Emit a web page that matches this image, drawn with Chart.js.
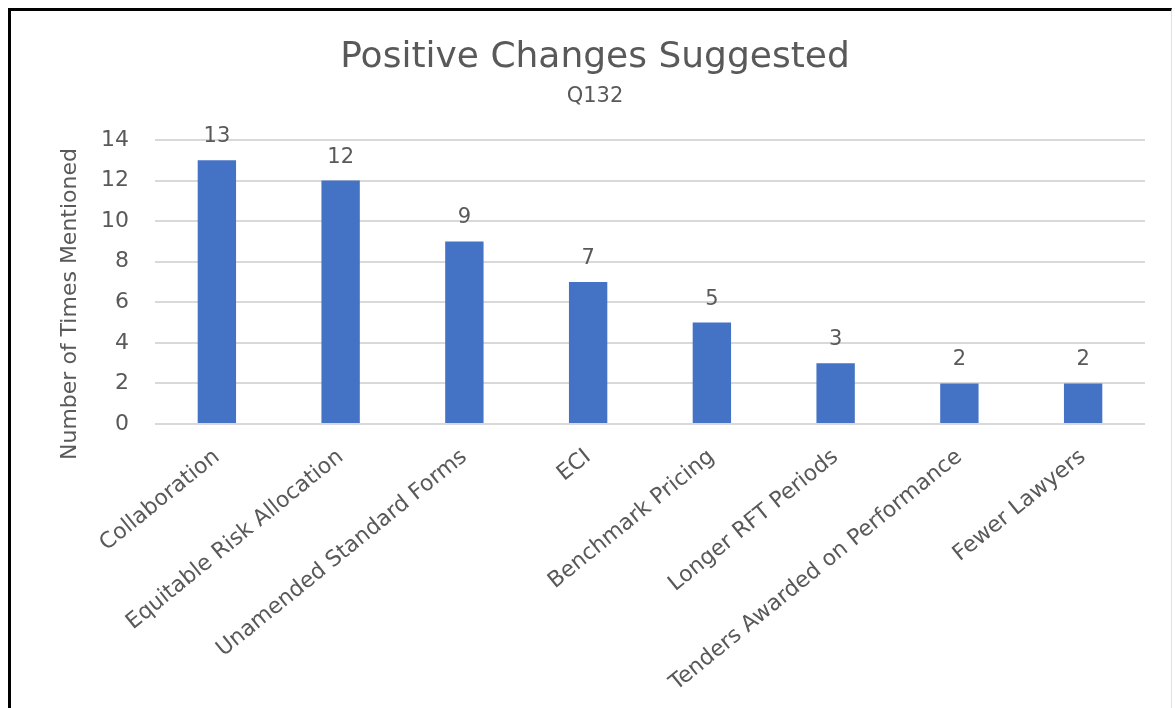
<!DOCTYPE html>
<html>
<head>
<meta charset="utf-8">
<script src="https://cdn.jsdelivr.net/npm/chart.js@4.4.0/dist/chart.umd.min.js"></script>
<style>
  html, body { margin: 0; padding: 0; background: #fff; }
  #wrap { position: relative; width: 1175px; height: 708px; overflow: hidden; }
  #frame {
    position: absolute; left: 8px; top: 8px; width: 1160px; height: 720px;
    border-top: 3px solid #000; border-left: 3px solid #000; border-right: 1px solid #e2e2e2;
  }
  #barChart { position: absolute; left: 0; top: 0; }
</style>
</head>
<body>
<div id="wrap">
  <div id="frame"></div>
  <canvas id="barChart" width="1175" height="708"></canvas>
</div>
<script>
const categories = ['Collaboration', 'Equitable Risk Allocation', 'Unamended Standard Forms', 'ECI',
  'Benchmark Pricing', 'Longer RFT Periods', 'Tenders Awarded on Performance', 'Fewer Lawyers'];
const timesMentioned = [13, 12, 9, 7, 5, 3, 2, 2];
const yTicks = [0, 2, 4, 6, 8, 10, 12, 14];
const yAxisTitle = 'Number of Times Mentioned';

const grey = '#595959';
const fontFamily = '"DejaVu Sans", "Open Sans", sans-serif';

// values above the bars (excel style data labels) + the y axis title,
// which sits a bit lower than the plot centre in the original
const extraText = {
  id: 'extraText',
  afterDatasetsDraw(chart) {
    const ctx = chart.ctx;
    const meta = chart.getDatasetMeta(0);
    const area = chart.chartArea;
    ctx.save();
    ctx.font = '21px ' + fontFamily;
    ctx.fillStyle = grey;
    ctx.textAlign = 'center';
    ctx.textBaseline = 'alphabetic';
    meta.data.forEach((bar, i) => {
      ctx.fillText(timesMentioned[i], bar.x, bar.y - 18);
    });

    ctx.font = '22px ' + fontFamily;
    ctx.textBaseline = 'middle';
    ctx.translate(70, (area.top + area.bottom) / 2 + 22);
    ctx.rotate(-Math.PI / 2);
    ctx.fillText(yAxisTitle, 0, 0);
    ctx.restore();
  }
};

const ctx = document.getElementById('barChart').getContext('2d');

const barChart = new Chart(ctx, {
  type: 'bar',
  data: {
    labels: categories,
    datasets: [{
      label: yAxisTitle,
      data: timesMentioned,
      backgroundColor: '#4472C4',
      categoryPercentage: 1,
      barPercentage: 0.31
    }]
  },
  options: {
    responsive: false,
    animation: false,
    layout: { padding: { top: 0, left: 45, right: 30, bottom: 0 } },
    plugins: {
      legend: { display: false },
      tooltip: { enabled: false },
      title: {
        display: true,
        text: 'Positive Changes Suggested',
        color: grey,
        font: { family: fontFamily, size: 36, weight: 'normal', lineHeight: 1 },
        padding: { top: 40, bottom: 0 }
      },
      subtitle: {
        display: true,
        text: 'Q132',
        color: grey,
        font: { family: fontFamily, size: 21, weight: 'normal', lineHeight: 1 },
        padding: { top: 10, bottom: 33 }
      }
    },
    scales: {
      x: {
        grid: { display: false, drawTicks: false },
        border: { display: false },
        ticks: {
          color: grey,
          font: { family: fontFamily, size: 22 },
          maxRotation: 39,
          minRotation: 39,
          padding: 20
        },
        afterFit: s => { s.height = 284; }
      },
      y: {
        min: 0,
        max: 14,
        afterBuildTicks: s => { s.ticks = yTicks.map(v => ({ value: v })); },
        grid: { color: '#d9d9d9', lineWidth: 2, drawTicks: false },
        border: { display: false },
        ticks: {
          color: grey,
          font: { family: fontFamily, size: 22 },
          padding: 26
        },
        afterFit: s => { s.width = 110; }
      }
    }
  },
  plugins: [extraText]
});
</script>
</body>
</html>
